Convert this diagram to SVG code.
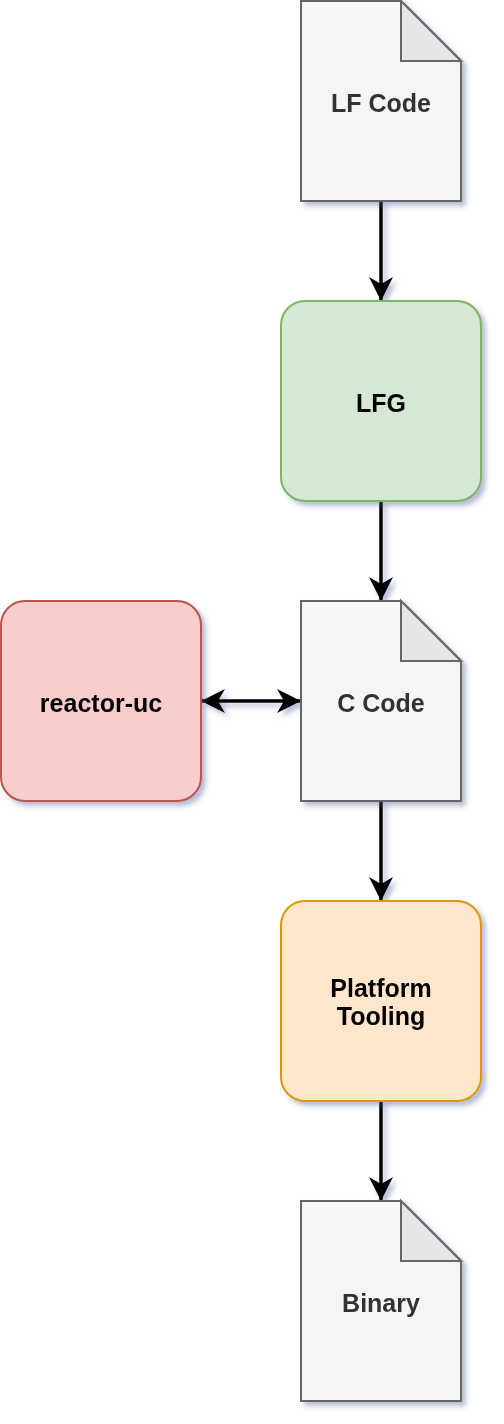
<svg xmlns="http://www.w3.org/2000/svg" width="504" height="1424" viewBox="0 0 504 1424">
<defs>
<filter id="sh" x="-20%" y="-20%" width="150%" height="150%">
<feGaussianBlur in="SourceAlpha" stdDeviation="2.5"/>
<feOffset dx="4" dy="4" result="b"/>
<feFlood flood-color="#4a5a9a" flood-opacity="0.4"/>
<feComposite in2="b" operator="in" result="s"/>
<feMerge><feMergeNode in="s"/><feMergeNode in="SourceGraphic"/></feMerge>
</filter>
<marker id="ah" viewBox="0 0 24 24" refX="23" refY="12" markerWidth="24" markerHeight="24" orient="auto-start-reverse" markerUnits="userSpaceOnUse">
<path d="M0,0 L24,12 L0,24 L7,12 Z" fill="#000"/>
</marker>
</defs>
<style>
.doc{fill:#f5f5f5;stroke:#666666;stroke-width:2}
.fold{fill:#e6e6e6;stroke:#666666;stroke-width:2;stroke-linejoin:miter}
.t{font-family:"Liberation Sans",Arial,sans-serif;font-weight:bold;font-size:25px;text-anchor:middle;dominant-baseline:central}
.dt{fill:#333333}
.bt{fill:#000000}
.c{stroke:#000;stroke-width:3.5;fill:none}
</style>
<g id="connectors" filter="url(#sh)">
<line class="c" x1="381" y1="201" x2="381" y2="300" marker-end="url(#ah)"/>
<line class="c" x1="381" y1="501" x2="381" y2="600" marker-end="url(#ah)"/>
<line class="c" x1="202" y1="701" x2="300" y2="701" marker-start="url(#ah)" marker-end="url(#ah)"/>
<line class="c" x1="381" y1="801" x2="381" y2="900" marker-end="url(#ah)"/>
<line class="c" x1="381" y1="1101" x2="381" y2="1200" marker-end="url(#ah)"/>
</g>
<g id="lf-code" filter="url(#sh)">
<path class="doc" d="M301,1 H401 L461,61 V201 H301 Z"/>
<path class="fold" d="M401,1 V61 H461 Z"/>
<text class="t dt" x="381" y="103">LF Code</text>
</g>
<g id="lfg" filter="url(#sh)">
<rect x="281" y="301" width="200" height="200" rx="24" ry="24" fill="#d5e8d4" stroke="#82b366" stroke-width="2"/>
<text class="t bt" x="381" y="403">LFG</text>
</g>
<g id="c-code" filter="url(#sh)">
<path class="doc" d="M301,601 H401 L461,661 V801 H301 Z"/>
<path class="fold" d="M401,601 V661 H461 Z"/>
<text class="t dt" x="381" y="703">C Code</text>
</g>
<g id="reactor-uc" filter="url(#sh)">
<rect x="1" y="601" width="200" height="200" rx="24" ry="24" fill="#f8cecc" stroke="#b85450" stroke-width="2"/>
<text class="t bt" x="101" y="703">reactor-uc</text>
</g>
<g id="platform-tooling" filter="url(#sh)">
<rect x="281" y="901" width="200" height="200" rx="24" ry="24" fill="#ffe6cc" stroke="#d79b00" stroke-width="2"/>
<text class="t bt" x="381" y="988">Platform</text>
<text class="t bt" x="381" y="1016">Tooling</text>
</g>
<g id="binary" filter="url(#sh)">
<path class="doc" d="M301,1201 H401 L461,1261 V1401 H301 Z"/>
<path class="fold" d="M401,1201 V1261 H461 Z"/>
<text class="t dt" x="381" y="1303">Binary</text>
</g>
</svg>
